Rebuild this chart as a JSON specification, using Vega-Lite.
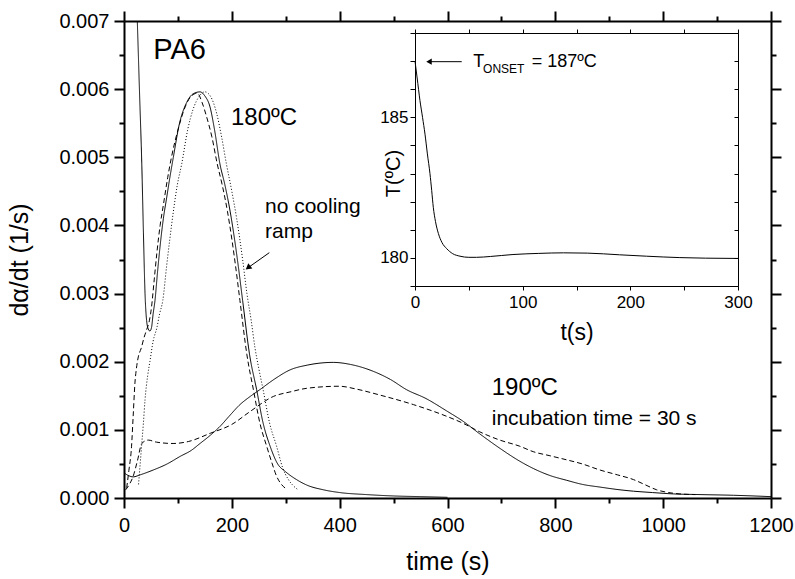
{
  "$schema": "https://vega.github.io/schema/vega-lite/v6.json",
  "width": 647,
  "height": 477,
  "autosize": {"type": "none"},
  "padding": {"left": 124, "top": 21, "right": 24, "bottom": 81},
  "background": "white",
  "config": {
    "font": "Liberation Sans",
    "view": {"stroke": null},
    "axis": {"domainColor": "black", "tickColor": "black", "labelColor": "black", "titleColor": "black", "grid": false, "labelFont": "Liberation Sans", "titleFont": "Liberation Sans", "titleFontWeight": "normal", "labelFlush": false, "labelOverlap": false, "labelBound": false}
  },
  "datasets": {
    "curves": [
      {"series": "180-1", "curve": "1", "t": 22, "v": 0.0077},
      {"series": "180-1", "curve": "1", "t": 24.7, "v": 0.007},
      {"series": "180-1", "curve": "1", "t": 29, "v": 0.0059},
      {"series": "180-1", "curve": "1", "t": 33, "v": 0.0049},
      {"series": "180-1", "curve": "1", "t": 36, "v": 0.0039},
      {"series": "180-1", "curve": "1", "t": 39, "v": 0.003},
      {"series": "180-1", "curve": "1", "t": 42, "v": 0.0026},
      {"series": "180-1", "curve": "1", "t": 45, "v": 0.00248},
      {"series": "180-1", "curve": "1", "t": 48, "v": 0.00245},
      {"series": "180-1", "curve": "1", "t": 51, "v": 0.0025},
      {"series": "180-1", "curve": "1", "t": 54, "v": 0.0027},
      {"series": "180-1", "curve": "1", "t": 57.5, "v": 0.0029},
      {"series": "180-1", "curve": "1", "t": 62, "v": 0.0033},
      {"series": "180-1", "curve": "1", "t": 67, "v": 0.0037},
      {"series": "180-1", "curve": "1", "t": 73, "v": 0.0041},
      {"series": "180-1", "curve": "1", "t": 79, "v": 0.0044},
      {"series": "180-1", "curve": "1", "t": 85, "v": 0.0047},
      {"series": "180-1", "curve": "1", "t": 91.5, "v": 0.005},
      {"series": "180-1", "curve": "1", "t": 103, "v": 0.0055},
      {"series": "180-1", "curve": "1", "t": 116, "v": 0.0058},
      {"series": "180-1", "curve": "1", "t": 128, "v": 0.00593},
      {"series": "180-1", "curve": "1", "t": 141, "v": 0.00596},
      {"series": "180-1", "curve": "1", "t": 150, "v": 0.0059},
      {"series": "180-1", "curve": "1", "t": 159.5, "v": 0.00574},
      {"series": "180-1", "curve": "1", "t": 168, "v": 0.0054},
      {"series": "180-1", "curve": "1", "t": 178, "v": 0.0049},
      {"series": "180-1", "curve": "1", "t": 187, "v": 0.0046},
      {"series": "180-1", "curve": "1", "t": 197, "v": 0.0042},
      {"series": "180-1", "curve": "1", "t": 205, "v": 0.0038},
      {"series": "180-1", "curve": "1", "t": 212, "v": 0.0034},
      {"series": "180-1", "curve": "1", "t": 220, "v": 0.0029},
      {"series": "180-1", "curve": "1", "t": 233, "v": 0.0021},
      {"series": "180-1", "curve": "1", "t": 246, "v": 0.00159},
      {"series": "180-1", "curve": "1", "t": 258, "v": 0.0011},
      {"series": "180-1", "curve": "1", "t": 271, "v": 0.00076},
      {"series": "180-1", "curve": "1", "t": 285, "v": 0.0005},
      {"series": "180-1", "curve": "1", "t": 299, "v": 0.00039},
      {"series": "180-1", "curve": "1", "t": 320, "v": 0.00027},
      {"series": "180-1", "curve": "1", "t": 339, "v": 0.00019},
      {"series": "180-1", "curve": "1", "t": 370, "v": 0.00012},
      {"series": "180-1", "curve": "1", "t": 400, "v": 0.00008},
      {"series": "180-1", "curve": "1", "t": 450, "v": 0.00005},
      {"series": "180-1", "curve": "1", "t": 500, "v": 0.00003},
      {"series": "180-1", "curve": "1", "t": 550, "v": 0.00002},
      {"series": "180-1", "curve": "1", "t": 600, "v": 0.00001},

      {"series": "180-2", "curve": "2", "t": 5, "v": 0.00015},
      {"series": "180-2", "curve": "2", "t": 9, "v": 0.0004},
      {"series": "180-2", "curve": "2", "t": 14, "v": 0.00076},
      {"series": "180-2", "curve": "2", "t": 17, "v": 0.0012},
      {"series": "180-2", "curve": "2", "t": 20.4, "v": 0.0017},
      {"series": "180-2", "curve": "2", "t": 23, "v": 0.0019},
      {"series": "180-2", "curve": "2", "t": 26.5, "v": 0.00207},
      {"series": "180-2", "curve": "2", "t": 32, "v": 0.0022},
      {"series": "180-2", "curve": "2", "t": 37, "v": 0.00235},
      {"series": "180-2", "curve": "2", "t": 42, "v": 0.00247},
      {"series": "180-2", "curve": "2", "t": 47, "v": 0.0026},
      {"series": "180-2", "curve": "2", "t": 51, "v": 0.0028},
      {"series": "180-2", "curve": "2", "t": 56, "v": 0.0032},
      {"series": "180-2", "curve": "2", "t": 61, "v": 0.0036},
      {"series": "180-2", "curve": "2", "t": 67, "v": 0.004},
      {"series": "180-2", "curve": "2", "t": 73, "v": 0.0043},
      {"series": "180-2", "curve": "2", "t": 81, "v": 0.0047},
      {"series": "180-2", "curve": "2", "t": 88, "v": 0.005},
      {"series": "180-2", "curve": "2", "t": 100, "v": 0.0054},
      {"series": "180-2", "curve": "2", "t": 114, "v": 0.00575},
      {"series": "180-2", "curve": "2", "t": 125, "v": 0.0059},
      {"series": "180-2", "curve": "2", "t": 136, "v": 0.00594},
      {"series": "180-2", "curve": "2", "t": 145, "v": 0.0058},
      {"series": "180-2", "curve": "2", "t": 153, "v": 0.0056},
      {"series": "180-2", "curve": "2", "t": 163, "v": 0.0053},
      {"series": "180-2", "curve": "2", "t": 173, "v": 0.0049},
      {"series": "180-2", "curve": "2", "t": 182, "v": 0.0046},
      {"series": "180-2", "curve": "2", "t": 192, "v": 0.0042},
      {"series": "180-2", "curve": "2", "t": 200, "v": 0.0038},
      {"series": "180-2", "curve": "2", "t": 207, "v": 0.0034},
      {"series": "180-2", "curve": "2", "t": 215, "v": 0.0029},
      {"series": "180-2", "curve": "2", "t": 228, "v": 0.0021},
      {"series": "180-2", "curve": "2", "t": 240, "v": 0.00159},
      {"series": "180-2", "curve": "2", "t": 252, "v": 0.0011},
      {"series": "180-2", "curve": "2", "t": 264.6, "v": 0.00076},
      {"series": "180-2", "curve": "2", "t": 275, "v": 0.0005},
      {"series": "180-2", "curve": "2", "t": 283, "v": 0.00032},
      {"series": "180-2", "curve": "2", "t": 292, "v": 0.0002},
      {"series": "180-2", "curve": "2", "t": 301.7, "v": 0.00013},

      {"series": "180-3", "curve": "3", "t": 27, "v": 0.0002},
      {"series": "180-3", "curve": "3", "t": 30, "v": 0.0005},
      {"series": "180-3", "curve": "3", "t": 33, "v": 0.0008},
      {"series": "180-3", "curve": "3", "t": 36, "v": 0.0011},
      {"series": "180-3", "curve": "3", "t": 39, "v": 0.00144},
      {"series": "180-3", "curve": "3", "t": 44, "v": 0.0018},
      {"series": "180-3", "curve": "3", "t": 48, "v": 0.002},
      {"series": "180-3", "curve": "3", "t": 54, "v": 0.0023},
      {"series": "180-3", "curve": "3", "t": 61, "v": 0.0025},
      {"series": "180-3", "curve": "3", "t": 66, "v": 0.0027},
      {"series": "180-3", "curve": "3", "t": 72, "v": 0.0029},
      {"series": "180-3", "curve": "3", "t": 79, "v": 0.0034},
      {"series": "180-3", "curve": "3", "t": 85, "v": 0.0038},
      {"series": "180-3", "curve": "3", "t": 91.5, "v": 0.0042},
      {"series": "180-3", "curve": "3", "t": 99, "v": 0.0046},
      {"series": "180-3", "curve": "3", "t": 107, "v": 0.0049},
      {"series": "180-3", "curve": "3", "t": 118, "v": 0.0054},
      {"series": "180-3", "curve": "3", "t": 128, "v": 0.0057},
      {"series": "180-3", "curve": "3", "t": 140, "v": 0.0059},
      {"series": "180-3", "curve": "3", "t": 150, "v": 0.00596},
      {"series": "180-3", "curve": "3", "t": 160, "v": 0.0059},
      {"series": "180-3", "curve": "3", "t": 172, "v": 0.00564},
      {"series": "180-3", "curve": "3", "t": 181, "v": 0.0053},
      {"series": "180-3", "curve": "3", "t": 190, "v": 0.0049},
      {"series": "180-3", "curve": "3", "t": 200, "v": 0.0045},
      {"series": "180-3", "curve": "3", "t": 209, "v": 0.0041},
      {"series": "180-3", "curve": "3", "t": 220, "v": 0.0035},
      {"series": "180-3", "curve": "3", "t": 228, "v": 0.003},
      {"series": "180-3", "curve": "3", "t": 236, "v": 0.0026},
      {"series": "180-3", "curve": "3", "t": 243, "v": 0.0022},
      {"series": "180-3", "curve": "3", "t": 250, "v": 0.0019},
      {"series": "180-3", "curve": "3", "t": 258, "v": 0.00159},
      {"series": "180-3", "curve": "3", "t": 270, "v": 0.0011},
      {"series": "180-3", "curve": "3", "t": 283, "v": 0.00076},
      {"series": "180-3", "curve": "3", "t": 294, "v": 0.00045},
      {"series": "180-3", "curve": "3", "t": 305, "v": 0.00027},
      {"series": "180-3", "curve": "3", "t": 314, "v": 0.00018},
      {"series": "180-3", "curve": "3", "t": 323, "v": 0.00012},

      {"series": "190-1", "curve": "1", "t": 0, "v": 0.00037},
      {"series": "190-1", "curve": "1", "t": 8, "v": 0.00033},
      {"series": "190-1", "curve": "1", "t": 17, "v": 0.00031},
      {"series": "190-1", "curve": "1", "t": 30, "v": 0.00034},
      {"series": "190-1", "curve": "1", "t": 54, "v": 0.00041},
      {"series": "190-1", "curve": "1", "t": 80, "v": 0.0005},
      {"series": "190-1", "curve": "1", "t": 104, "v": 0.00061},
      {"series": "190-1", "curve": "1", "t": 125, "v": 0.0007},
      {"series": "190-1", "curve": "1", "t": 141, "v": 0.0008},
      {"series": "190-1", "curve": "1", "t": 160, "v": 0.00092},
      {"series": "190-1", "curve": "1", "t": 178, "v": 0.00105},
      {"series": "190-1", "curve": "1", "t": 195, "v": 0.0012},
      {"series": "190-1", "curve": "1", "t": 215, "v": 0.00137},
      {"series": "190-1", "curve": "1", "t": 234, "v": 0.00149},
      {"series": "190-1", "curve": "1", "t": 252, "v": 0.00159},
      {"series": "190-1", "curve": "1", "t": 280, "v": 0.00175},
      {"series": "190-1", "curve": "1", "t": 308, "v": 0.00188},
      {"series": "190-1", "curve": "1", "t": 340, "v": 0.00195},
      {"series": "190-1", "curve": "1", "t": 388, "v": 0.00199},
      {"series": "190-1", "curve": "1", "t": 420, "v": 0.00196},
      {"series": "190-1", "curve": "1", "t": 462, "v": 0.00186},
      {"series": "190-1", "curve": "1", "t": 494, "v": 0.00174},
      {"series": "190-1", "curve": "1", "t": 524, "v": 0.00159},
      {"series": "190-1", "curve": "1", "t": 560, "v": 0.00146},
      {"series": "190-1", "curve": "1", "t": 598, "v": 0.00128},
      {"series": "190-1", "curve": "1", "t": 630, "v": 0.00112},
      {"series": "190-1", "curve": "1", "t": 660, "v": 0.00094},
      {"series": "190-1", "curve": "1", "t": 697, "v": 0.00073},
      {"series": "190-1", "curve": "1", "t": 734, "v": 0.00054},
      {"series": "190-1", "curve": "1", "t": 760, "v": 0.00043},
      {"series": "190-1", "curve": "1", "t": 790, "v": 0.00033},
      {"series": "190-1", "curve": "1", "t": 821, "v": 0.00026},
      {"series": "190-1", "curve": "1", "t": 850, "v": 0.0002},
      {"series": "190-1", "curve": "1", "t": 883, "v": 0.00016},
      {"series": "190-1", "curve": "1", "t": 920, "v": 0.00012},
      {"series": "190-1", "curve": "1", "t": 945, "v": 0.0001},
      {"series": "190-1", "curve": "1", "t": 980, "v": 0.00008},
      {"series": "190-1", "curve": "1", "t": 1019, "v": 0.00006},
      {"series": "190-1", "curve": "1", "t": 1070, "v": 0.00005},
      {"series": "190-1", "curve": "1", "t": 1130, "v": 0.00004},
      {"series": "190-1", "curve": "1", "t": 1200, "v": 0.00002},

      {"series": "190-2", "curve": "2", "t": 3, "v": 0.00012},
      {"series": "190-2", "curve": "2", "t": 10, "v": 0.0002},
      {"series": "190-2", "curve": "2", "t": 17, "v": 0.00032},
      {"series": "190-2", "curve": "2", "t": 25, "v": 0.00055},
      {"series": "190-2", "curve": "2", "t": 33, "v": 0.0008},
      {"series": "190-2", "curve": "2", "t": 45, "v": 0.00085},
      {"series": "190-2", "curve": "2", "t": 60, "v": 0.00082},
      {"series": "190-2", "curve": "2", "t": 91, "v": 0.0008},
      {"series": "190-2", "curve": "2", "t": 120, "v": 0.00083},
      {"series": "190-2", "curve": "2", "t": 160, "v": 0.00095},
      {"series": "190-2", "curve": "2", "t": 200, "v": 0.00108},
      {"series": "190-2", "curve": "2", "t": 234, "v": 0.00127},
      {"series": "190-2", "curve": "2", "t": 277, "v": 0.00149},
      {"series": "190-2", "curve": "2", "t": 310, "v": 0.00156},
      {"series": "190-2", "curve": "2", "t": 339, "v": 0.00161},
      {"series": "190-2", "curve": "2", "t": 400, "v": 0.00164},
      {"series": "190-2", "curve": "2", "t": 430, "v": 0.0016},
      {"series": "190-2", "curve": "2", "t": 475, "v": 0.00151},
      {"series": "190-2", "curve": "2", "t": 537, "v": 0.00137},
      {"series": "190-2", "curve": "2", "t": 598, "v": 0.0012},
      {"series": "190-2", "curve": "2", "t": 628, "v": 0.0011},
      {"series": "190-2", "curve": "2", "t": 660, "v": 0.00097},
      {"series": "190-2", "curve": "2", "t": 697, "v": 0.00085},
      {"series": "190-2", "curve": "2", "t": 734, "v": 0.00076},
      {"series": "190-2", "curve": "2", "t": 759, "v": 0.00068},
      {"series": "190-2", "curve": "2", "t": 790, "v": 0.00062},
      {"series": "190-2", "curve": "2", "t": 821, "v": 0.00056},
      {"series": "190-2", "curve": "2", "t": 850, "v": 0.0005},
      {"series": "190-2", "curve": "2", "t": 883, "v": 0.00041},
      {"series": "190-2", "curve": "2", "t": 915, "v": 0.00034},
      {"series": "190-2", "curve": "2", "t": 945, "v": 0.00027},
      {"series": "190-2", "curve": "2", "t": 965, "v": 0.0002},
      {"series": "190-2", "curve": "2", "t": 988, "v": 0.00012},
      {"series": "190-2", "curve": "2", "t": 1010, "v": 0.00008},
      {"series": "190-2", "curve": "2", "t": 1031, "v": 0.00006},
      {"series": "190-2", "curve": "2", "t": 1060, "v": 0.00005}
    ],
    "inset": [
      {"t": 0, "T": 187.0},
      {"t": 2, "T": 186.4},
      {"t": 4.6, "T": 185.6},
      {"t": 7, "T": 185.0},
      {"t": 9.3, "T": 184.4},
      {"t": 11.5, "T": 183.7},
      {"t": 13.9, "T": 183.0},
      {"t": 15.5, "T": 182.4},
      {"t": 17, "T": 181.8},
      {"t": 19, "T": 181.3},
      {"t": 21.7, "T": 180.87},
      {"t": 25, "T": 180.55},
      {"t": 29.4, "T": 180.33},
      {"t": 35, "T": 180.15},
      {"t": 41.8, "T": 180.06},
      {"t": 50, "T": 180.02},
      {"t": 57, "T": 180.02},
      {"t": 70, "T": 180.05},
      {"t": 91, "T": 180.12},
      {"t": 115, "T": 180.16},
      {"t": 138, "T": 180.18},
      {"t": 160, "T": 180.17},
      {"t": 190, "T": 180.11},
      {"t": 215, "T": 180.06},
      {"t": 246, "T": 180.01},
      {"t": 270, "T": 179.99},
      {"t": 300, "T": 179.98}
    ]
  },
  "resolve": {"scale": {"x": "independent", "y": "independent", "strokeDash": "independent"}},
  "layer": [
    {
      "data": {"name": "curves"},
      "mark": {"type": "line", "color": "black", "strokeWidth": 1, "interpolate": "monotone", "clip": true},
      "encoding": {
        "x": {"field": "t", "type": "quantitative", "scale": {"domain": [0, 1200], "nice": false, "zero": false},
          "axis": {"orient": "bottom", "values": [0, 200, 400, 600, 800, 1000, 1200], "format": "d",
            "tickSize": 10, "labelFontSize": 20, "labelPadding": 7, "domainWidth": 2, "tickWidth": 2,
            "title": "time (s)", "titleFontSize": 25, "titlePadding": 14}},
        "y": {"field": "v", "type": "quantitative", "scale": {"domain": [0, 0.007], "nice": false, "zero": false},
          "axis": {"orient": "left", "values": [0, 0.001, 0.002, 0.003, 0.004, 0.005, 0.006, 0.007], "format": ".3f",
            "tickSize": 10, "labelFontSize": 20, "labelPadding": 5, "domainWidth": 2, "tickWidth": 2,
            "title": "dα/dt (1/s)", "titleFontSize": 25, "titlePadding": 26}},
        "detail": {"field": "series"},
        "strokeDash": {"field": "curve", "type": "nominal", "scale": {"domain": ["1", "2", "3"], "range": [[1, 0], [5, 3], [1, 2]]}, "legend": null}
      }
    },
    {
      "data": {"values": [{"t": 54.4, "v": 0.006449, "label": "PA6"}]},
      "mark": {"type": "text", "align": "left", "baseline": "alphabetic", "fontSize": 29, "color": "black"},
      "encoding": {
        "x": {"field": "t", "type": "quantitative", "scale": {"domain": [0, 1200], "nice": false, "zero": false},
          "axis": {"orient": "top", "values": [0, 200, 400, 600, 800, 1000, 1200], "labels": false, "title": null,
            "tickSize": 10, "domainWidth": 2, "tickWidth": 2}},
        "y": {"field": "v", "type": "quantitative", "scale": {"domain": [0, 0.007], "nice": false, "zero": false},
          "axis": {"orient": "right", "values": [0, 0.001, 0.002, 0.003, 0.004, 0.005, 0.006, 0.007], "labels": false, "title": null,
            "tickSize": 10, "domainWidth": 2, "tickWidth": 2}},
        "text": {"field": "label"}
      }
    },
    {
      "data": {"values": [{"t": 198.4, "v": 0.005472, "label": "180ºC"}, {"t": 682, "v": 0.001514, "label": "190ºC"}]},
      "mark": {"type": "text", "align": "left", "baseline": "alphabetic", "fontSize": 24, "color": "black"},
      "encoding": {
        "x": {"field": "t", "type": "quantitative", "scale": {"domain": [0, 1200], "nice": false, "zero": false},
          "axis": {"orient": "bottom", "values": [100, 300, 500, 700, 900, 1100], "labels": false, "domain": false, "title": null, "tickSize": 5, "tickWidth": 2}},
        "y": {"field": "v", "type": "quantitative", "scale": {"domain": [0, 0.007], "nice": false, "zero": false},
          "axis": {"orient": "left", "values": [0.0005, 0.0015, 0.0025, 0.0035, 0.0045, 0.0055, 0.0065], "labels": false, "domain": false, "title": null, "tickSize": 5, "tickWidth": 2}},
        "text": {"field": "label"}
      }
    },
    {
      "data": {"values": [{"t": 261.5, "v": 0.004177, "label": "no cooling"}, {"t": 261.5, "v": 0.003811, "label": "ramp"}, {"t": 682, "v": 0.001064, "label": "incubation time = 30 s"}]},
      "mark": {"type": "text", "align": "left", "baseline": "alphabetic", "fontSize": 21, "color": "black"},
      "encoding": {
        "x": {"field": "t", "type": "quantitative", "scale": {"domain": [0, 1200], "nice": false, "zero": false},
          "axis": {"orient": "top", "values": [100, 300, 500, 700, 900, 1100], "labels": false, "domain": false, "title": null, "tickSize": 5, "tickWidth": 2}},
        "y": {"field": "v", "type": "quantitative", "scale": {"domain": [0, 0.007], "nice": false, "zero": false},
          "axis": {"orient": "right", "values": [0.0005, 0.0015, 0.0025, 0.0035, 0.0045, 0.0055, 0.0065], "labels": false, "domain": false, "title": null, "tickSize": 5, "tickWidth": 2}},
        "text": {"field": "label"}
      }
    },
    {
      "data": {"values": [{"t": 269.5, "v": 0.0036, "t2": 232, "v2": 0.00339}]},
      "mark": {"type": "rule", "color": "black", "strokeWidth": 1},
      "encoding": {
        "x": {"field": "t", "type": "quantitative", "scale": {"domain": [0, 1200], "nice": false, "zero": false}, "axis": null},
        "y": {"field": "v", "type": "quantitative", "scale": {"domain": [0, 0.007], "nice": false, "zero": false}, "axis": null},
        "x2": {"field": "t2"},
        "y2": {"field": "v2"}
      }
    },
    {
      "data": {"values": [{"t": 230, "v": 0.00338}]},
      "mark": {"type": "point", "shape": "triangle-up", "angle": 233, "size": 45, "filled": true, "color": "black", "opacity": 1},
      "encoding": {
        "x": {"field": "t", "type": "quantitative", "scale": {"domain": [0, 1200], "nice": false, "zero": false}, "axis": null},
        "y": {"field": "v", "type": "quantitative", "scale": {"domain": [0, 0.007], "nice": false, "zero": false}, "axis": null}
      }
    },
    {
      "data": {"name": "inset"},
      "mark": {"type": "line", "color": "black", "strokeWidth": 1, "interpolate": "monotone", "clip": false},
      "encoding": {
        "x": {"field": "t", "type": "quantitative", "scale": {"domain": [0, 300], "range": [291, 614], "nice": false, "zero": false},
          "axis": {"orient": "bottom", "offset": -212, "values": [0, 50, 100, 150, 200, 250, 300],
            "labelExpr": "datum.value % 100 === 0 ? datum.label : ''", "tickSize": 4, "labelFontSize": 17, "labelPadding": 4,
            "domainWidth": 1, "tickWidth": 1, "title": "t(s)", "titleFontSize": 23, "titlePadding": 11}},
        "y": {"field": "T", "type": "quantitative", "scale": {"domain": [179, 188], "range": [265, 12], "nice": false, "zero": false},
          "axis": {"orient": "left", "offset": -291, "values": [179, 180, 181, 182, 183, 184, 185, 186, 187, 188],
            "labelExpr": "datum.value % 5 === 0 ? datum.label : ''", "tickSize": 5, "labelFontSize": 17, "labelPadding": 2,
            "domainWidth": 1, "tickWidth": 1, "title": "T(ºC)", "titleFontSize": 20, "titleX": -12, "titleY": 152, "titleBaseline": "bottom"}}
      }
    },
    {
      "data": {"values": [{"t": 43.4, "T": 186.98, "t2": 14, "T2": 186.98}]},
      "mark": {"type": "rule", "color": "black", "strokeWidth": 1},
      "encoding": {
        "x": {"field": "t", "type": "quantitative", "scale": {"domain": [0, 300], "range": [291, 614], "nice": false, "zero": false},
          "axis": {"orient": "top", "offset": -12, "values": [0, 50, 100, 150, 200, 250, 300], "labels": false, "title": null, "tickSize": 4, "domainWidth": 1, "tickWidth": 1}},
        "y": {"field": "T", "type": "quantitative", "scale": {"domain": [179, 188], "range": [265, 12], "nice": false, "zero": false},
          "axis": {"orient": "right", "offset": -33, "values": [179, 180, 181, 182, 183, 184, 185, 186, 187, 188], "labels": false, "title": null, "tickSize": -4, "domainWidth": 1, "tickWidth": 1}},
        "x2": {"field": "t2"},
        "y2": {"field": "T2"}
      }
    },
    {
      "data": {"values": [{"t": 13, "T": 186.98}]},
      "mark": {"type": "point", "shape": "triangle-left", "size": 40, "filled": true, "color": "black", "opacity": 1},
      "encoding": {
        "x": {"field": "t", "type": "quantitative", "scale": {"domain": [0, 300], "range": [291, 614], "nice": false, "zero": false}, "axis": null},
        "y": {"field": "T", "type": "quantitative", "scale": {"domain": [179, 188], "range": [265, 12], "nice": false, "zero": false}, "axis": null}
      }
    },
    {
      "data": {"values": [{"t": 54.1, "T": 186.8, "label": "T"}, {"t": 108.4, "T": 186.8, "label": "= 187ºC"}]},
      "mark": {"type": "text", "align": "left", "baseline": "alphabetic", "fontSize": 18, "color": "black"},
      "encoding": {
        "x": {"field": "t", "type": "quantitative", "scale": {"domain": [0, 300], "range": [291, 614], "nice": false, "zero": false}, "axis": null},
        "y": {"field": "T", "type": "quantitative", "scale": {"domain": [179, 188], "range": [265, 12], "nice": false, "zero": false}, "axis": null},
        "text": {"field": "label"}
      }
    },
    {
      "data": {"values": [{"t": 63.2, "T": 186.57, "label": "ONSET"}]},
      "mark": {"type": "text", "align": "left", "baseline": "alphabetic", "fontSize": 12, "color": "black"},
      "encoding": {
        "x": {"field": "t", "type": "quantitative", "scale": {"domain": [0, 300], "range": [291, 614], "nice": false, "zero": false}, "axis": null},
        "y": {"field": "T", "type": "quantitative", "scale": {"domain": [179, 188], "range": [265, 12], "nice": false, "zero": false}, "axis": null},
        "text": {"field": "label"}
      }
    }
  ]
}
